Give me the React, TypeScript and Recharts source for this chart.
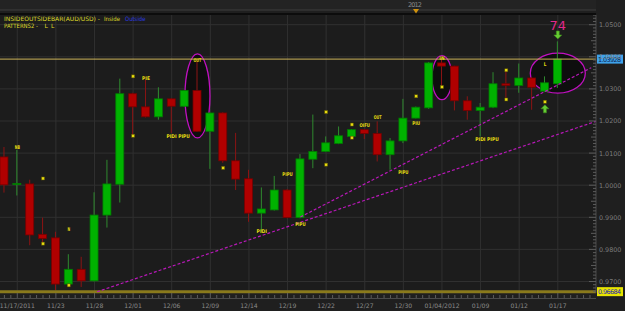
import React from "react";
import { ComposedChart, Bar, XAxis, YAxis, CartesianGrid, ReferenceLine, ReferenceDot } from "recharts";

// AUD/USD daily candles, 11/16/2011 - 01/17/2012
const dates = [
  "11/16", "11/17/2011", "11/18", "11/22", "11/23", "11/24", "11/25", "11/28", "11/29", "11/30",
  "12/01", "12/02", "12/05", "12/06", "12/07", "12/08", "12/09", "12/12", "12/13", "12/14",
  "12/15", "12/16", "12/19", "12/20", "12/21", "12/22", "12/23", "12/26", "12/27", "12/28",
  "12/29", "12/30", "01/02", "01/03", "01/04/2012", "01/05", "01/06", "01/09", "01/10", "01/11",
  "01/12", "01/13", "01/16", "01/17",
];
const opens = [
  1.0088, 1.0003, 1.0004, 0.9847, 0.9836, 0.9692, 0.9738, 0.9702, 0.9907, 1.0003,
  1.0285, 1.0244, 1.0213, 1.0269, 1.0246, 1.0295, 1.0168, 1.0225, 1.0076, 1.002,
  0.9913, 0.9923, 0.9985, 0.9899, 1.0081, 1.0105, 1.013, 1.0152, 1.0173, 1.0161,
  1.0095, 1.0138, 1.0209, 1.0241, 1.0381, 1.0371, 1.0263, 1.0233, 1.0243, 1.0316,
  1.0311, 1.0334, 1.0293, 1.0316,
];
const highs = [
  1.0119, 1.011, 1.0017, 0.9899, 0.9855, 0.9785, 0.9777, 0.9978, 1.0079, 1.0332,
  1.0288, 1.0329, 1.0305, 1.0271, 1.0297, 1.0386, 1.0226, 1.0227, 1.0163, 1.0048,
  0.9993, 1.0029, 0.9988, 1.0097, 1.022, 1.0152, 1.0183, 1.0175, 1.0175, 1.0199,
  1.0147, 1.0269, 1.0245, 1.0384, 1.0397, 1.0372, 1.0277, 1.0256, 1.0352, 1.0355,
  1.0379, 1.0336, 1.0339, 1.0448,
];
const lows = [
  0.9977, 0.9968, 0.9813, 0.9819, 0.9673, 0.9683, 0.9683, 0.97, 0.9868, 0.9946,
  1.0152, 1.0211, 1.0204, 1.0163, 1.0244, 1.0166, 1.0051, 1.007, 0.9985, 0.9886,
  0.9855, 0.9921, 0.9897, 0.9897, 1.0053, 1.0103, 1.0128, 1.015, 1.0144, 1.0074,
  1.0048, 1.0131, 1.0208, 1.0238, 1.0303, 1.0233, 1.0204, 1.0152, 1.024, 1.0272,
  1.0288, 1.0235, 1.029, 1.0303,
];
const closes = [
  1.0001, 1.0005, 0.9845, 0.9834, 0.9692, 0.9738, 0.9702, 0.9907, 1.0004, 1.0285,
  1.0244, 1.0213, 1.0269, 1.0246, 1.0295, 1.0168, 1.0225, 1.0076, 1.0019, 0.9913,
  0.9926, 0.9985, 0.9899, 1.0082, 1.0105, 1.0132, 1.0154, 1.0173, 1.0161, 1.0095,
  1.0138, 1.0209, 1.0243, 1.0381, 1.0371, 1.0263, 1.0233, 1.0243, 1.0316, 1.0311,
  1.0334, 1.0305, 1.0319, 1.03928,
];

const labelIdx = [1, 4, 7, 10, 13, 16, 19, 22, 25, 28, 31, 34, 37, 40, 43];
const priceLevels = [0.97, 0.98, 0.99, 1.0, 1.01, 1.02, 1.03, 1.04, 1.05];
const lastPrice = 1.03928;
const lowPrice = 0.96684;

// trend lines [index, price]
const trendA = [[7.2, 0.9668], [45.97, 1.0199]];
const trendB = [[23, 0.9901], [45.6, 1.0366]];

// circled bars [index, price]
const circled = [[15, 1.0278], [34, 1.0335], [43, 1.0349]];

// pattern notes [index, price, text] ("" = dot)
const notes: [number, number, string][] = [
  [1, 1.0117, "NB"], [3, 1.0021, ""], [3, 0.9818, ""], [5, 0.9863, "N"], [5, 0.9688, ""],
  [10, 1.0339, ""], [11, 1.0332, "PIE"], [10, 1.0154, ""], [13.5, 1.0152, "PIDI PIPU"],
  [15, 1.0388, "OUT"], [17, 1.0054, ""], [22, 1.0035, "PIPU"], [20, 0.9857, "PIDI"],
  [23, 0.9879, "PIPU"], [25, 1.0228, ""], [25, 1.0064, ""], [27, 1.0189, ""], [27, 1.0148, ""],
  [28, 1.0186, "OIFU"], [29, 1.0211, "OUT"], [31, 1.0039, "PIPU"], [32, 1.0277, ""],
  [32, 1.0192, "PIU"], [34, 1.0395, "IN"], [34, 1.0306, ""], [39, 1.0358, ""], [39, 1.0267, ""],
  [37.5, 1.0142, "PIDI PIPU"], [42, 1.0376, "L"], [42, 1.026, ""],
];

const signalCount = "74";
const signalAt = [43, 1.0498];
const arrowDownAt = [43, 1.0468];
const arrowUpAt = [42, 1.0238];

const candles = dates.map((d, i) => ({
  i, date: d, open: opens[i], high: highs[i], low: lows[i], close: closes[i],
}));

const xTicks = Array.from({ length: 92 }, (_, k) => k / 2);
const yTicks = Array.from({ length: 87 }, (_, k) => (967 + k) / 1000);

const FONT = "DejaVu Sans, sans-serif";
const ellipseSize = [[12.5, 42], [10, 22], [27.5, 20]];

const Candle = (props: any) => {
  const { x, y, width, height, payload } = props;
  if (height == null || isNaN(y)) return null;
  const { open, close, high, low } = payload;
  const k = height / (high - low);
  const up = close >= open;
  const bodyTop = y + (high - Math.max(open, close)) * k;
  const bodyH = Math.max(1, Math.abs(close - open) * k);
  const cx = x + width / 2;
  return (
    <g>
      <line x1={cx} x2={cx} y1={y} y2={y + height} stroke={up ? "#2f8a2f" : "#8c1414"} />
      <rect x={x} y={bodyTop} width={width} height={bodyH}
        fill={up ? "#00b200" : "#b00000"} stroke={up ? "#007c00" : "#760000"} strokeWidth={0.8} />
    </g>
  );
};

const XTick = (props: any) => {
  const { x, y, payload } = props;
  const i = payload.value;
  const major = labelIdx.includes(i);
  return (
    <g>
      <line x1={x} x2={x} y1={major ? y : y + 2} y2={y + 5} stroke="#5c5c5c" />
      {major && (
        <text x={x} y={y + 14.5} textAnchor="middle" fontSize={6.1} fill="#8a8a8a" fontFamily={FONT}>
          {dates[i]}
        </text>
      )}
    </g>
  );
};

const YTick = (props: any) => {
  const { x, y, payload } = props;
  const k = Math.round(payload.value * 1000);
  const major = k % 10 === 0;
  const len = major ? 7 : k % 5 === 0 ? 5 : 3;
  return (
    <g>
      <line x1={x - len} x2={x} y1={y} y2={y} stroke="#5c5c5c" />
      {major && (
        <text x={x + 3} y={y + 2.4} fontSize={6.4} fill="#7d7d7d" fontFamily={FONT}>
          {payload.value.toFixed(4)}
        </text>
      )}
    </g>
  );
};

const PriceTag = (props: any) => {
  const { viewBox, text, bg, fg } = props;
  if (!viewBox) return null;
  const x = viewBox.x + viewBox.width + 1;
  const y = viewBox.y;
  return (
    <g>
      <rect x={x} y={y - 4.5} width={26} height={9} fill={bg} />
      <text x={x + 1} y={y + 2.4} fontSize={6.4} fill={fg} fontFamily={FONT} textLength={23}>
        {text}
      </text>
    </g>
  );
};

const Note = (props: any) => {
  const { cx, cy, text } = props;
  if (!text) {
    return <rect x={cx - 1.5} y={cy - 1.5} width={3} height={3} fill="#e6dc10" stroke="#5a5000" strokeWidth={0.5} />;
  }
  return (
    <text x={cx} y={cy + 1.8} textAnchor="middle" fontSize={5} fontWeight="bold" fill="#e6dc10"
      fontFamily={FONT} textLength={text.length * 2.6} lengthAdjust="spacingAndGlyphs">
      {text}
    </text>
  );
};

const Arrow = (props: any) => {
  const { cx, cy, dir } = props;
  const s = dir === "up" ? 1 : -1;
  const pts = [
    [0, -4], [4, 0], [1.5, 0], [1.5, 4], [-1.5, 4], [-1.5, 0], [-4, 0],
  ].map(([a, b]) => `${cx + a},${cy + b * s}`).join(" ");
  return <polygon points={pts} fill="#66cc33" stroke="#3d8a1d" strokeWidth={0.6} />;
};

export default function App() {
  return (
    <div style={{ position: "fixed", left: 0, top: 0, width: 625, height: 311, background: "#1f1f1f", overflow: "hidden" }}>
      <ComposedChart width={625} height={311} data={candles} margin={{ top: 15, right: 0, bottom: 0, left: 0 }}>
        <CartesianGrid fill="#1c1c1c" stroke="#303030" horizontalValues={priceLevels} verticalValues={labelIdx} />
        <XAxis dataKey="i" type="number" domain={[-0.342, 45.968]} ticks={xTicks} interval={0} height={18}
          tick={(p: any) => <XTick {...p} />} tickLine={false} axisLine={false} tickSize={0} tickMargin={0} allowDataOverflow />
        <YAxis orientation="right" type="number" domain={[0.96642, 1.05302]} ticks={yTicks} interval={0} width={29}
          tick={(p: any) => <YTick {...p} />} tickLine={false} axisLine={{ stroke: "#4a4a4a" }} tickSize={0} tickMargin={0} allowDataOverflow />

        {circled.map(([i, v], n) => (
          <ReferenceDot key={"e" + n} x={i} y={v} ifOverflow="visible" zIndex={100}
            shape={(p: any) => (
              <ellipse cx={p.cx} cy={p.cy} rx={ellipseSize[n][0]} ry={ellipseSize[n][1]}
                fill="#0e0e0e" stroke="#c010c0" strokeWidth={1.3} />
            )} />
        ))}

        <ReferenceLine y={lastPrice} stroke="#cdb45a" strokeWidth={1}
          label={<PriceTag text={lastPrice.toFixed(5)} bg="#3ea2ea" fg="#0c1c4c" />} />
        <ReferenceLine y={lowPrice} stroke="#8a7a1c" strokeWidth={3}
          label={<PriceTag text={lowPrice.toFixed(5)} bg="#e8e400" fg="#1a1ab8" />} />

        <ReferenceLine segment={[{ x: trendA[0][0], y: trendA[0][1] }, { x: trendA[1][0], y: trendA[1][1] }]}
          stroke="#b818b8" strokeWidth={1.2} strokeDasharray="3 2" ifOverflow="visible" />
        <ReferenceLine segment={[{ x: trendB[0][0], y: trendB[0][1] }, { x: trendB[1][0], y: trendB[1][1] }]}
          stroke="#b818b8" strokeWidth={1.2} strokeDasharray="3 2" ifOverflow="visible" />

        <Bar dataKey={(d: any) => [d.low, d.high]} barSize={8} shape={Candle} isAnimationActive={false} />

        {notes.map(([i, v, t], n) => (
          <ReferenceDot key={"n" + n} x={i} y={v} ifOverflow="visible" shape={(p: any) => <Note {...p} text={t} />} />
        ))}
        <ReferenceDot x={arrowUpAt[0]} y={arrowUpAt[1]} ifOverflow="visible" shape={(p: any) => <Arrow {...p} dir="up" />} />
        <ReferenceDot x={arrowDownAt[0]} y={arrowDownAt[1]} ifOverflow="visible" shape={(p: any) => <Arrow {...p} dir="down" />} />
        <ReferenceDot x={signalAt[0]} y={signalAt[1]} ifOverflow="visible"
          shape={(p: any) => (
            <text x={p.cx} y={p.cy + 4.5} textAnchor="middle" fontSize={13} fill="#e0288c" fontFamily={FONT}>
              {signalCount}
            </text>
          )} />
      </ComposedChart>

      <svg width={625} height={311} style={{ position: "absolute", left: 0, top: 0, pointerEvents: "none" }}>
        <rect x={0} y={0} width={596} height={10} fill="#232323" />
        <line x1={0} x2={596} y1={10} y2={10} stroke="#3e3e3e" />
        <line x1={0} x2={596} y1={14} y2={14} stroke="#0c0c0c" strokeWidth={2} />
        <text x={408} y={7} fontSize={6.5} fill="#8a8a8a" fontFamily={FONT} textLength={14}>2012</text>
        <polygon points="413,9 419,9 416,13.5" fill="#d0920e" />
        <line x1={0} x2={596} y1={298.5} y2={298.5} stroke="#4a4a4a" />

        <text x={4} y={21} fontSize={6} fill="#dcd828" fontFamily={FONT} textLength={96} lengthAdjust="spacingAndGlyphs">
          INSIDEOUTSIDEBAR(AUD/USD) -
        </text>
        <text x={104} y={21} fontSize={6} fill="#dcd828" fontFamily={FONT} textLength={16} lengthAdjust="spacingAndGlyphs">
          Inside
        </text>
        <text x={125} y={21} fontSize={6} fill="#2a3ae0" fontFamily={FONT} textLength={20.5} lengthAdjust="spacingAndGlyphs">
          Outside
        </text>
        <text x={4} y={28} fontSize={6} fill="#dcd828" fontFamily={FONT} textLength={34} lengthAdjust="spacingAndGlyphs">
          PATTERNS2 -
        </text>
        <text x={44.5} y={28} fontSize={6} fill="#dcd828" fontFamily={FONT}>L</text>
        <text x={51} y={28} fontSize={6} fill="#dcd828" fontFamily={FONT}>L</text>
      </svg>
    </div>
  );
}
